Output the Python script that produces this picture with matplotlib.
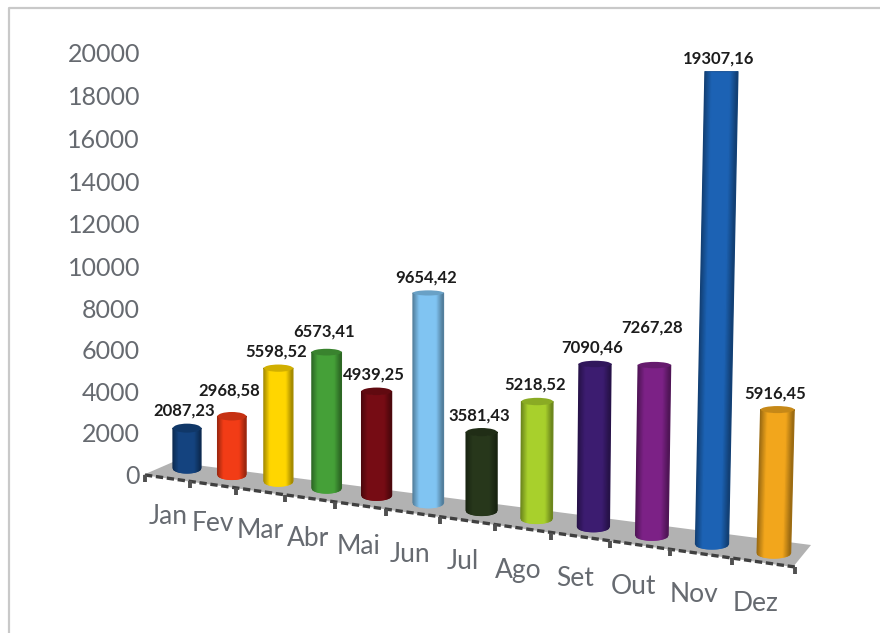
import numpy as np
import matplotlib
matplotlib.use("Agg")
import matplotlib.pyplot as plt
from matplotlib.collections import PolyCollection
from matplotlib.colors import to_rgb
from matplotlib.patches import Polygon, Ellipse

plt.rcParams['font.family'] = ['Lato', 'DejaVu Sans']

# data
months = ["Jan", "Fev", "Mar", "Abr", "Mai", "Jun", "Jul", "Ago", "Set", "Out", "Nov", "Dez"]
values = [2087.23, 2968.58, 5598.52, 6573.41, 4939.25, 9654.42,
          3581.43, 5218.52, 7090.46, 7267.28, 19307.16, 5916.45]
value_labels = ["2087,23", "2968,58", "5598,52", "6573,41", "4939,25", "9654,42",
                "3581,43", "5218,52", "7090,46", "7267,28", "19307,16", "5916,45"]
colors = ["#14437f", "#f23c16", "#ffd600", "#45a038", "#760c14", "#80c4f2",
          "#27371b", "#a8d02c", "#3c1c70", "#7c2186", "#1c62b4", "#f2a61c"]
y_ticks = [0, 2000, 4000, 6000, 8000, 10000, 12000, 14000, 16000, 18000, 20000]

# extra lift of a few value labels, they sit higher than the rest in the original
label_lift = {1: 8, 3: 4, 9: 21}


# the fake 3d projection, everything goes from (month index, value) to pixels
def base_x(i):
    return 187 + 44 * i + 0.85 * i ** 2


def base_y(i):
    return 468 + 6.3 * i + 0.13 * i ** 2


def bar_height(i, v):
    return v * (0.0190 + 0.00045 * i + 5e-8 * v)


def lean(i):
    return max(0, i - 6) * 0.005


def edge_x(k):
    return 145 + 44 * k + 0.85 * k ** 2


def edge_y(k):
    return 475 + 0.1415 * (edge_x(k) - 145)


def tick_y(k):
    return 476 - 41 * k - 0.12 * k ** 2


def shade(color, f):
    c = np.array(to_rgb(color))
    if f <= 1:
        return tuple(c * f)
    return tuple(c + (1 - c) * (f - 1))


def draw_bar(ax, i, v, color):
    w = 28 + 0.5 * i
    yb = base_y(i)
    xb = base_x(i)
    h = bar_height(i, v)
    yt = yb - h
    dx = lean(i) * h
    ry_bot = 5
    ry_top = max(0.5, 5 * (1 - v / 20000))

    u = np.linspace(-1, 1, 31)
    strips = []
    fc = []
    for a, b in zip(u[:-1], u[1:]):
        m = (a + b) / 2
        a_arc, b_arc = np.sqrt(1 - a ** 2), np.sqrt(1 - b ** 2)
        strips.append([
            (xb + a * w / 2, yb + ry_bot * a_arc),
            (xb + b * w / 2, yb + ry_bot * b_arc),
            (xb + dx + b * w / 2, yt + ry_top * b_arc),
            (xb + dx + a * w / 2, yt + ry_top * a_arc),
        ])
        # dark at the rim, flat through the middle
        fc.append(shade(color, 0.62 + 0.38 * min(1, (1 - abs(m)) / 0.45)))
    ax.add_collection(PolyCollection(strips, facecolors=fc, edgecolors=fc, linewidths=0.9, zorder=3 + i))
    ax.add_patch(Ellipse((xb + dx, yt), w, 2 * ry_top, fc=shade(color, 0.82), ec="none", zorder=3 + i))
    return xb + dx, yt - ry_top


fig = plt.figure(figsize=(8.8, 6.33), dpi=100)
ax = fig.add_axes([0, 0, 1, 1])
ax.set_xlim(0, 880)
ax.set_ylim(633, 0)
ax.axis("off")

# frame, only top and left show in the original
ax.plot([9, 9, 880], [633, 8, 8], color="#c9c9c9", lw=1.6, zorder=1)

# floor
ax.add_patch(Polygon([(173, 462), (811, 545), (793, 567), (143, 475)], fc="#b2b2b2", ec="none", zorder=1))

# front edge with the month ticks
ks = np.arange(len(months) + 1)
ax.plot([edge_x(0), edge_x(12)], [edge_y(0), edge_y(12)], color="#404040", lw=2.4,
        linestyle=(0, (2.2, 1.1)), zorder=2)
for k in ks:
    ax.plot([edge_x(k), edge_x(k)], [edge_y(k), edge_y(k) + 7], color="#505050", lw=2.8, zorder=2, solid_capstyle="butt")

for i, (v, c) in enumerate(zip(values, colors)):
    cx, top = draw_bar(ax, i, v, c)
    ax.text(cx - 2.5, top - 13 - label_lift.get(i, 0), value_labels[i], ha="center", va="center",
            fontsize=12, fontweight="bold", color="#1c1c1c", zorder=20)
    ax.text(base_x(i) - 18.5, 516 + 7.3 * i + 0.06 * i ** 2, months[i], ha="center", va="center",
            fontsize=19, color="#666a70", zorder=20)

for k, t in enumerate(y_ticks):
    ax.text(140, tick_y(k), str(t), ha="right", va="center", fontsize=18, color="#666a70", zorder=20)

fig.savefig("out.png", dpi=100)
